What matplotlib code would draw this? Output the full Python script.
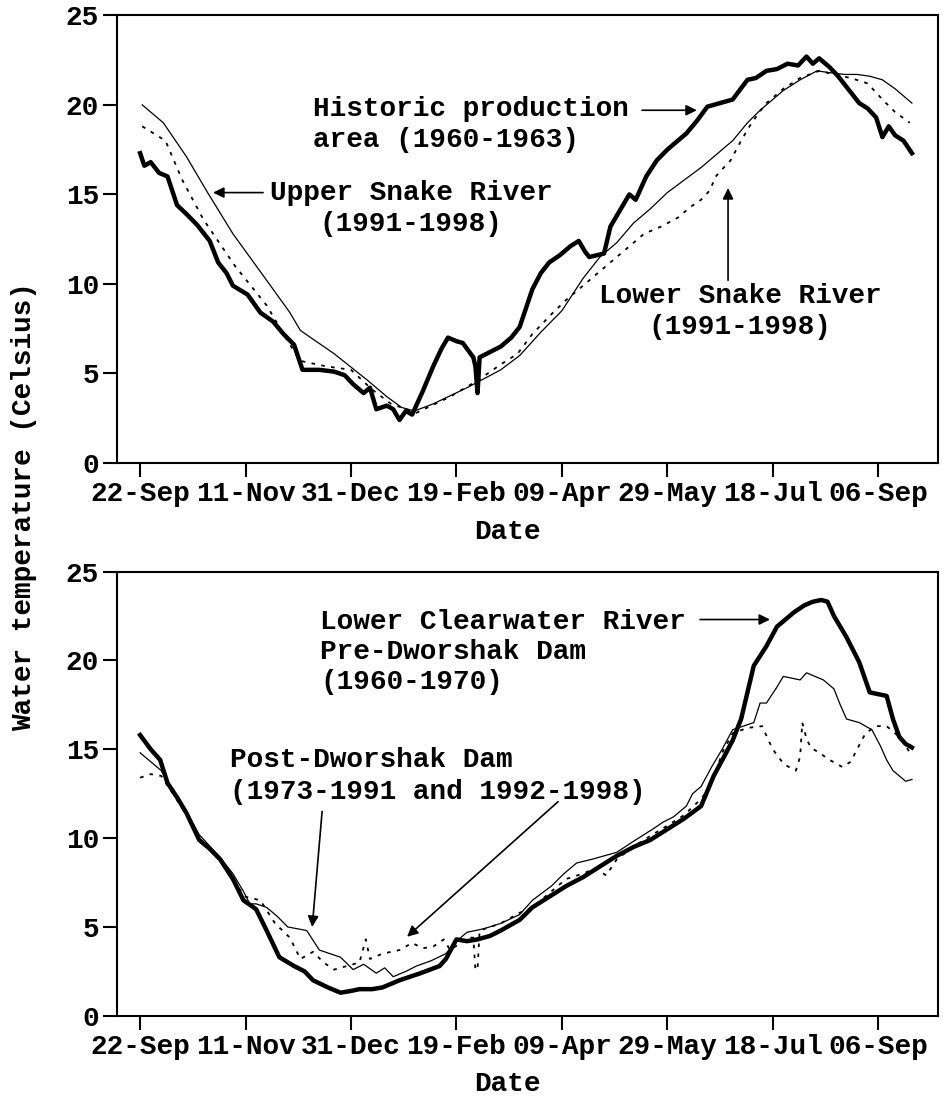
import matplotlib
matplotlib.use('Agg')
import matplotlib.pyplot as plt

plt.rcParams['font.family'] = ['Liberation Mono', 'DejaVu Sans Mono']
plt.rcParams['font.weight'] = 'bold'
plt.rcParams['axes.labelweight'] = 'bold'
plt.rcParams['font.size'] = 20

# x axis: days after 22-Sep
tick_days = [0, 50, 100, 150, 200, 250, 300, 350]
tick_labels = ['22-Sep', '11-Nov', '31-Dec', '19-Feb', '09-Apr', '29-May', '18-Jul', '06-Sep']
y_ticks = [0, 5, 10, 15, 20, 25]

# --- Snake River panel ---
hist_days = [0, 2, 5, 9, 13, 17.5, 22, 27, 33, 37, 41, 44, 51, 57, 63, 68, 73, 77, 85, 92,
             97, 101, 106, 109, 112, 117, 120, 123, 126, 129, 134, 139, 143, 146, 150, 153,
             158, 159, 160, 161, 166, 171, 176, 180, 186, 190, 194, 199, 204, 208, 211, 213,
             220, 223, 228, 232, 235, 240, 245, 250, 255, 259, 264, 269, 275, 281, 288, 292,
             297, 302, 307, 312, 316, 319, 322, 327, 331, 335, 341, 345, 349, 352, 355, 358,
             362, 366]
hist_temp = [17.3, 16.6, 16.8, 16.2, 16.0, 14.4, 13.9, 13.3, 12.4, 11.2, 10.6, 9.9, 9.4, 8.4,
             7.9, 7.2, 6.6, 5.2, 5.2, 5.1, 4.9, 4.4, 3.9, 4.2, 3.0, 3.2, 3.0, 2.4, 2.9, 2.7,
             4.0, 5.4, 6.4, 7.0, 6.8, 6.7, 5.9, 5.4, 3.9, 5.9, 6.2, 6.5, 7.0, 7.6, 9.7, 10.6,
             11.2, 11.6, 12.1, 12.4, 11.8, 11.5, 11.7, 13.2, 14.2, 15.0, 14.7, 16.0, 16.9,
             17.5, 18.0, 18.4, 19.1, 19.9, 20.1, 20.3, 21.4, 21.5, 21.9, 22.0, 22.3, 22.2,
             22.7, 22.3, 22.6, 22.1, 21.6, 21.0, 20.1, 19.8, 19.3, 18.2, 18.8, 18.3, 18.0, 17.3]

upper_days = [1, 11, 22, 32, 44, 60, 71, 76, 92, 108, 117, 124, 130, 139, 155, 171, 180, 190,
              200, 210, 218, 226, 234, 242, 250, 258, 266, 274, 281, 288, 294, 300, 305, 313,
              321, 327, 334, 340, 346, 352, 358, 366]
upper_temp = [20.0, 19.0, 17.1, 15.1, 12.8, 10.2, 8.4, 7.4, 6.1, 4.6, 3.7, 3.1, 2.9, 3.3, 4.2,
              5.2, 6.0, 7.3, 8.5, 10.3, 11.5, 12.3, 13.4, 14.2, 15.1, 15.8, 16.5, 17.3, 18.0,
              19.0, 19.7, 20.3, 20.8, 21.4, 21.9, 21.8, 21.7, 21.7, 21.6, 21.4, 20.9, 20.1]

lower_days = [1, 12, 20, 30, 45, 60, 70, 76, 88, 100, 110, 119, 131, 147, 160, 171, 179, 186,
              195, 202, 212, 223, 231, 239, 247, 255, 261, 266, 270, 273, 276, 280, 285, 289,
              293, 297, 305, 313, 322, 329, 337, 345, 352, 358, 365]
lower_temp = [18.8, 18.0, 15.8, 13.6, 11.0, 8.8, 6.8, 5.7, 5.4, 5.2, 4.1, 3.3, 2.8, 3.7, 4.6,
              5.5, 6.1, 7.2, 8.3, 9.1, 10.1, 11.2, 12.0, 12.8, 13.2, 13.7, 14.3, 14.7, 15.2,
              16.0, 16.4, 16.9, 18.0, 18.8, 19.5, 20.1, 20.9, 21.5, 21.9, 21.7, 21.5, 21.2,
              20.3, 19.6, 19.0]

# --- Clearwater River panel ---
pre_days = [0, 5, 9.5, 13, 18, 22, 28, 33, 38, 44, 49, 55, 60, 66, 73, 78, 82, 89, 95, 100,
            104, 110, 115, 123, 133, 142, 145, 150, 155, 160, 166, 171, 180, 186, 194, 202,
            210, 218, 226, 234, 242, 250, 258, 266, 272, 277, 281, 285, 288, 291, 297, 302,
            306, 310, 315, 319, 323, 326, 329, 335, 341, 346, 350, 354, 357, 360, 363, 366]
pre_temp = [15.8, 15.0, 14.4, 13.1, 12.2, 11.4, 9.9, 9.4, 8.8, 7.7, 6.5, 6.0, 4.8, 3.3, 2.8,
            2.5, 2.0, 1.6, 1.3, 1.4, 1.5, 1.5, 1.6, 2.0, 2.4, 2.8, 3.2, 4.3, 4.2, 4.3, 4.5,
            4.8, 5.4, 6.1, 6.7, 7.3, 7.8, 8.4, 9.0, 9.5, 9.9, 10.5, 11.1, 11.8, 13.5, 14.6,
            15.5, 16.7, 18.2, 19.7, 20.8, 21.9, 22.3, 22.7, 23.1, 23.3, 23.4, 23.3, 22.5,
            21.3, 19.9, 18.2, 18.1, 18.0, 16.7, 15.7, 15.3, 15.1]

post1_days = [0, 5, 10, 15, 22, 28, 38, 44, 49, 52, 55, 60, 65, 70, 79, 85, 90, 95, 101, 106,
              112, 116, 120, 126, 131, 138, 145, 150, 155, 163, 171, 180, 186, 195, 201, 207,
              214, 220, 226, 235, 243, 248, 253, 259, 262, 266, 271, 276, 281, 286, 291, 294,
              297, 302, 305, 309, 313, 316, 320, 324, 329, 332, 335, 341, 347, 351, 354, 357,
              360, 363, 366]
post1_temp = [14.8, 14.3, 13.8, 12.8, 11.5, 10.2, 8.9, 8.0, 7.0, 6.3, 6.3, 6.1, 5.6, 5.0, 4.8,
              3.7, 3.5, 3.3, 2.6, 2.9, 2.4, 2.7, 2.2, 2.5, 2.8, 3.1, 3.5, 4.2, 4.7, 4.9, 5.2,
              5.7, 6.5, 7.3, 8.0, 8.6, 8.8, 9.0, 9.2, 9.9, 10.5, 10.9, 11.2, 11.8, 12.5, 12.9,
              14.0, 15.0, 16.1, 16.3, 16.5, 17.6, 17.6, 18.5, 19.1, 19.0, 18.9, 19.3, 19.1,
              18.9, 18.4, 17.5, 16.7, 16.5, 16.1, 15.2, 14.4, 13.8, 13.5, 13.2, 13.3]

post2_days = [0, 5, 10, 15, 22, 28, 38, 44, 50, 57, 64, 71, 76, 82, 87, 92, 98, 104, 107, 109,
              115, 123, 129, 134, 139, 144, 147, 152, 155, 158, 159, 160, 161, 171, 180, 186,
              194, 202, 210, 216, 221, 226, 235, 243, 250, 258, 266, 271, 276, 281, 288, 295,
              298, 300, 305, 309, 311, 313, 314, 316, 318, 322, 327, 333, 337, 340, 344, 349,
              354, 360, 363, 366]
post2_temp = [13.4, 13.6, 13.5, 12.6, 11.3, 10.0, 8.7, 7.6, 6.7, 6.5, 5.2, 4.4, 3.2, 3.6, 3.0,
              2.6, 2.8, 3.0, 4.3, 3.2, 3.5, 3.7, 4.1, 3.8, 3.9, 4.3, 3.7, 4.1, 4.4, 4.4, 2.6,
              2.6, 4.8, 5.2, 5.8, 6.1, 6.9, 7.7, 8.0, 8.3, 7.9, 8.8, 9.6, 10.2, 10.7, 11.3,
              12.2, 13.0, 14.8, 15.9, 16.2, 16.3, 15.5, 15.0, 14.2, 13.9, 13.8, 14.6, 16.5,
              15.6, 15.1, 14.8, 14.4, 14.0, 14.3, 15.0, 15.9, 16.3, 16.3, 15.7, 15.2, 14.6]

fig = plt.figure(figsize=(9.43, 10.97), dpi=100)
ax1 = fig.add_axes([0.124, 0.578, 0.871, 0.408])
ax2 = fig.add_axes([0.124, 0.074, 0.871, 0.405])

dots = (0, (2, 3.5))
ax1.plot(hist_days, hist_temp, color='black', lw=3.2)
ax1.plot(upper_days, upper_temp, color='black', lw=0.9)
ax1.plot(lower_days, lower_temp, color='black', lw=1.3, linestyle=dots)

ax2.plot(pre_days, pre_temp, color='black', lw=3.2)
ax2.plot(post1_days, post1_temp, color='black', lw=0.9)
ax2.plot(post2_days, post2_temp, color='black', lw=1.3, linestyle=dots)

for ax in (ax1, ax2):
    ax.set_xlim(-11, 378.5)
    ax.set_ylim(0, 25)
    ax.set_xticks(tick_days)
    ax.set_xticklabels(tick_labels)
    ax.set_yticks(y_ticks)
    ax.tick_params(direction='out', length=10, width=1.5, pad=3)
    for s in ax.spines.values():
        s.set_linewidth(1.5)
    ax.set_xlabel('Date')
    ax.xaxis.set_label_coords(0.475, -0.125)

arrow = dict(arrowstyle='-|>', color='black', lw=1.2, mutation_scale=16, shrinkA=0, shrinkB=0)

ax1.text(82, 18.9, 'Historic production\narea (1960-1963)', va='center', ha='left',
         linespacing=1.25)
ax1.annotate('', xy=(264, 19.7), xytext=(238, 19.7), arrowprops=arrow)
ax1.text(128.5, 14.2, 'Upper Snake River\n(1991-1998)', va='center', ha='center',
         multialignment='center', linespacing=1.25)
ax1.annotate('', xy=(34.6, 15.1), xytext=(58.3, 15.1), arrowprops=arrow)
ax1.text(284.5, 8.45, 'Lower Snake River\n(1991-1998)', va='center', ha='center',
         multialignment='center', linespacing=1.25)
ax1.annotate('', xy=(278.8, 15.35), xytext=(278.8, 10.2), arrowprops=arrow)

ax2.text(85.3, 20.5, 'Lower Clearwater River\nPre-Dworshak Dam\n(1960-1970)', va='center',
         ha='left', linespacing=1.2)
ax2.annotate('', xy=(298.7, 22.3), xytext=(265.5, 22.3), arrowprops=arrow)
ax2.text(42.7, 13.5, 'Post-Dworshak Dam\n(1973-1991 and 1992-1998)', va='center', ha='left',
         linespacing=1.3)
ax2.annotate('', xy=(81.6, 5.0), xytext=(86.3, 11.5), arrowprops=arrow)
ax2.annotate('', xy=(126.6, 4.45), xytext=(198.2, 12.05), arrowprops=arrow)

fig.text(0.026, 0.538, 'Water temperature (Celsius)', rotation=90, va='center', ha='center')

fig.savefig('out.png', dpi=100)
